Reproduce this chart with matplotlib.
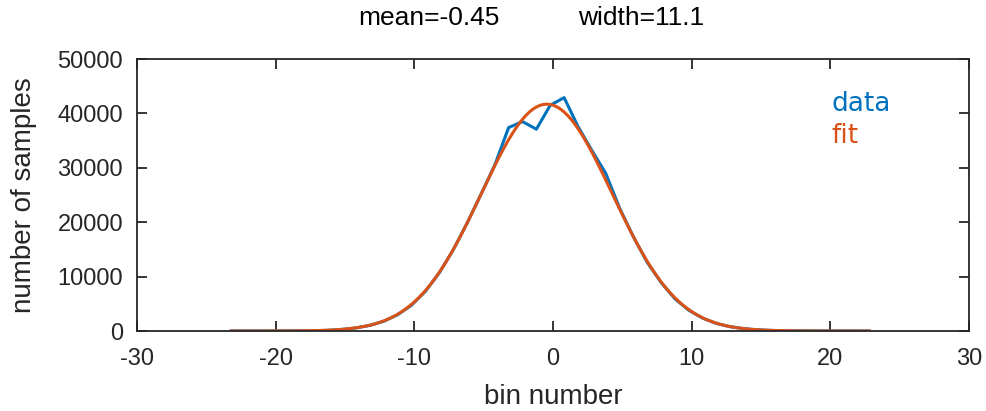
import numpy as np
import matplotlib
matplotlib.use('Agg')
import matplotlib.pyplot as plt

# histogram of bin numbers (bin centres every 1.0, offset -0.2)
bins = [-23.2, -22.2, -21.2, -20.2, -19.2, -18.2, -17.2, -16.2, -15.2, -14.2,
        -13.2, -12.2, -11.2, -10.2, -9.2, -8.2, -7.2, -6.2, -5.2, -4.2,
        -3.2, -2.2, -1.2, -0.2, 0.8, 1.8, 2.8, 3.8, 4.8, 5.8,
        6.8, 7.8, 8.8, 9.8, 10.8, 11.8, 12.8, 13.8, 14.8, 15.8,
        16.8, 17.8, 18.8, 19.8, 20.8, 21.8, 22.8]
counts = [0, 0, 1, 3, 8, 20, 50, 130, 300, 570,
          1040, 1800, 3000, 4750, 7300, 10700, 14900, 19800, 25100, 30500,
          37400, 38500, 37100, 41500, 42900, 37600, 33200, 29000, 22600, 17300,
          12600, 8900, 5900, 3800, 2350, 1380, 780, 420, 215, 105,
          50, 22, 9, 4, 1, 0, 0]

# gaussian fit parameters (width = FWHM)
fit_mean = -0.45
fit_width = 11.1
fit_peak = 41700

blue = '#0072BD'
orange = '#D95319'

plt.rcParams['font.family'] = ['Liberation Sans', 'DejaVu Sans']
plt.rcParams['axes.unicode_minus'] = False

fig = plt.figure(figsize=(9.87, 4.11), dpi=100)
ax = fig.add_axes([0.1388, 0.1946, 0.843, 0.6618])

xfit = np.linspace(bins[0], bins[-1], 500)
sigma = fit_width / (2 * np.sqrt(2 * np.log(2)))
yfit = fit_peak * np.exp(-(xfit - fit_mean) ** 2 / (2 * sigma ** 2))

ax.plot(bins, counts, color=blue, lw=2.2)
ax.plot(xfit, yfit, color=orange, lw=2.2)

ax.set_xlim(-30, 30)
ax.set_ylim(0, 50000)
ax.set_xticks(range(-30, 31, 10))
ax.set_yticks(range(0, 50001, 10000))
ax.tick_params(direction='in', length=7, width=1.3, top=True, right=True,
               labelsize=17, colors='#262626')
ax.tick_params(axis='x', pad=12)
ax.tick_params(axis='y', pad=10)
for s in ax.spines.values():
    s.set_linewidth(1.3)
    s.set_color('#262626')

ax.set_xlabel('bin number', fontsize=20, color='#262626', labelpad=10)
ax.set_ylabel('number of samples', fontsize=20, color='#262626', labelpad=15)

ax.text(0.835, 0.835, 'data', color=blue, fontsize=19, family='DejaVu Sans',
        transform=ax.transAxes, va='center', ha='left')
ax.text(0.835, 0.717, 'fit', color=orange, fontsize=19, family='DejaVu Sans',
        transform=ax.transAxes, va='center', ha='left')

fig.text(0.435, 0.955, 'mean=-0.45', fontsize=19, ha='center', va='center')
fig.text(0.65, 0.955, 'width=11.1', fontsize=19, ha='center', va='center')

fig.savefig('out.png', dpi=100)
